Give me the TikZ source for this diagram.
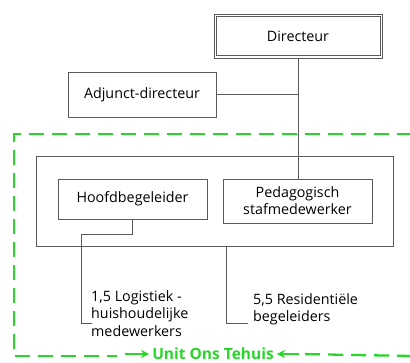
\documentclass[tikz,border=0pt]{standalone}
\usepackage{fontspec}
\setmainfont{Open Sans}
\usetikzlibrary{arrows.meta,positioning,calc}
\definecolor{unitgreen}{RGB}{40,215,40}
\definecolor{linegray}{RGB}{90,90,90}
\tikzset{
    x=1pt,y=-1pt,
    box/.style={draw=linegray, line width=0.9pt, rectangle, inner sep=0pt, align=center,
        font=\fontsize{14.3}{17}\selectfont},
    conn/.style={draw=linegray, line width=0.9pt},
    lbl/.style={inner sep=0pt, align=left, anchor=north west,
        font=\fontsize{14.3}{17.5}\selectfont},
    unitline/.style={draw=unitgreen, line width=2.3pt, dash pattern=on 15pt off 8pt},
    unitarrow/.style={draw=unitgreen, line width=2.3pt, -{Stealth[length=8pt,width=8pt]}}
}
\begin{document}
\begin{tikzpicture}
    \useasboundingbox (0,0) rectangle (410,363);

    % top of the chart
    \node[box, minimum width=168, minimum height=44] (dir) at (298,36) {Directeur};
    \draw[linegray, line width=0.9pt] ($(dir.south west)+(2.5,-2.5)$) rectangle ($(dir.north east)+(-2.5,2.5)$);
    \node[box, minimum width=148, minimum height=45] (adj) at (142,94.5) {Adjunct-directeur};

    % the unit
    \node[box, minimum width=357, minimum height=90] (unitbox) at (214.5,201) {};
    \node[box, minimum width=149, minimum height=40] (hoofd) at (132.5,199) {Hoofdbegeleider};
    \node[box, minimum width=149, minimum height=44] (peda) at (297.5,201) {Pedagogisch\\stafmedewerker};

    \node[lbl] (logi) at (91,290) {1,5 Logistiek -\\huishoudelijke\\medewerkers};
    \node[lbl] (resi) at (253,293) {5,5 Residentiële\\begeleiders};

    \node[font=\fontsize{15.5}{17}\selectfont\bfseries, text=unitgreen, inner sep=3pt] (unit) at (213,354) {Unit Ons Tehuis};

    \coordinate (logiend) at (92,323);
    \coordinate (resistart) at (226,246);
    \coordinate (resiend) at (248,323);
    \coordinate (frametl) at (14,134);
    \coordinate (frametr) at (412,134);
    \coordinate (framebl) at (14,356);
    \coordinate (framebr) at (412,356);

    % connectors
    \draw[conn] (dir.south) -- (dir.south |- peda.north);
    \draw[conn] (adj.east) -- (adj.east -| dir.south);
    \draw[conn] (hoofd.south) |- (81,234) |- (logiend);
    \draw[conn] (resistart) |- (resiend);

    % green frame
    \draw[unitline] (frametr) -- (frametl) -- (framebl) -- ++(103,0);
    \draw[unitarrow] ($(unit.west)+(-24,0)$) -- (unit.west);
    \draw[unitline] (framebr) -- ($(unit.east)+(22,0)$);
    \draw[unitarrow] ($(unit.east)+(22,0)$) -- (unit.east);
\end{tikzpicture}
\end{document}
